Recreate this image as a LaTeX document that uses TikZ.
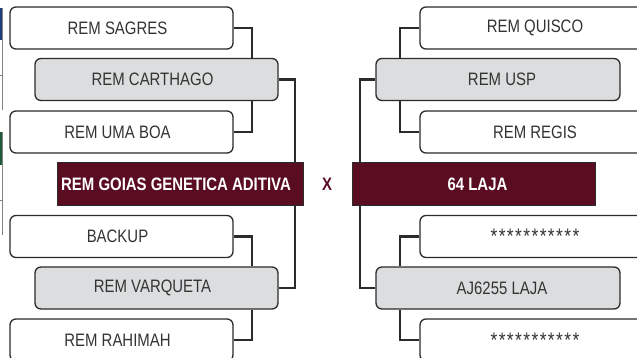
\documentclass[tikz,border=0pt]{standalone}
\usepackage{fontspec}
\setmainfont{Liberation Sans}[FakeStretch=0.83]
\usetikzlibrary{backgrounds}
\definecolor{maroon}{HTML}{5A0C21}
\definecolor{boxgray}{HTML}{DCDDDE}
\definecolor{edge}{HTML}{2B2B2B}
\definecolor{txt}{HTML}{333333}
\definecolor{stubblue}{HTML}{1F3F7A}
\definecolor{stubgreen}{HTML}{1E5A3A}
\newcommand{\stars}{{\fontsize{21}{21}\selectfont\foreach \i in {1,...,11}{\makebox[8.2pt]{*}}}}
\begin{document}
\begin{tikzpicture}[x=1pt,y=-1pt,
  base/.style={draw=edge,line width=1.3pt,rounded corners=6pt,minimum height=42pt,inner sep=0pt,
    text=txt,font=\fontsize{18}{20}\selectfont},
  whitebox/.style={base,fill=white,minimum width=223pt},
  graybox/.style={base,fill=boxgray,minimum width=243pt},
  mainbox/.style={draw=edge,line width=1pt,fill=maroon,text=white,minimum height=43pt,inner sep=0pt,
    font=\fontsize{18}{20}\selectfont\bfseries},
  toleft/.style={execute at begin node={\hspace*{-8pt}}},
  toright/.style={execute at end node={\hspace*{-8pt}}},
  conn/.style={draw=edge,line width=2.4pt}]
\useasboundingbox (0,0) rectangle (637,358);
\clip (0,0) rectangle (637,358);
% left edge stubs
\fill[stubblue] (0,8) rectangle (1.8,40);
\fill[stubgreen] (0,132) rectangle (1.8,165);
\draw[gray,line width=0.6pt] (2.2,8) -- (2.2,110) (0,75) -- (2.2,75);
\draw[gray,line width=0.6pt] (2.2,132) -- (2.2,235) (0,200) -- (2.2,200);
% left side
\node[whitebox,toleft] (sagres) at (121.5,28) {REM SAGRES};
\node[graybox,toleft] (carthago) at (156.5,79.5) {REM CARTHAGO};
\node[whitebox,toleft] (umaboa) at (121.5,132) {REM UMA BOA};
\node[mainbox,toleft,minimum width=246pt] (goias) at (180,184.5) {REM GOIAS GENETICA ADITIVA};
\node[whitebox,toleft] (backup) at (121.5,236.5) {BACKUP};
\node[graybox,toleft] (varqueta) at (156.5,288) {REM VARQUETA};
\node[whitebox,toleft] (rahimah) at (121.5,340) {REM RAHIMAH};
% right side
\node[whitebox,minimum width=230pt] (quisco) at (535,28) {REM QUISCO};
\node[graybox,toright,minimum width=244pt] (usp) at (498,79.5) {REM USP};
\node[whitebox,minimum width=230pt] (regis) at (535,132) {REM REGIS};
\node[mainbox,toright,minimum width=243pt] (laja) at (473.5,184.5) {64 LAJA};
\node[whitebox,minimum width=230pt] (star1) at (535,236.5) {\stars};
\node[graybox,toright,minimum width=244pt] (aj) at (498,288) {AJ6255 LAJA};
\node[whitebox,minimum width=230pt] (star2) at (535,340) {\stars};
% X
\node[text=maroon,font=\fontsize{18}{20}\selectfont\bfseries,inner sep=0pt] (x) at (327,184.5) {X};
% bracket columns
\coordinate (lb) at (252,0);
\coordinate (lc) at (295,0);
\coordinate (rb) at (400,0);
\coordinate (rc) at (360,0);
\begin{scope}[on background layer]
\draw[conn] (sagres.east) -| (lb |- carthago.north);
\draw[conn] (umaboa.east) -| (lb |- carthago.south);
\draw[conn] (carthago.east) -| (lc |- goias.north);
\draw[conn] (backup.east) -| (lb |- varqueta.north);
\draw[conn] (rahimah.east) -| (lb |- varqueta.south);
\draw[conn] (varqueta.east) -| (lc |- goias.south);
\draw[conn] (quisco.west) -| (rb |- usp.north);
\draw[conn] (regis.west) -| (rb |- usp.south);
\draw[conn] (usp.west) -| (rc |- laja.north);
\draw[conn] (star1.west) -| (rb |- aj.north);
\draw[conn] (star2.west) -| (rb |- aj.south);
\draw[conn] (aj.west) -| (rc |- laja.south);
\end{scope}
\end{tikzpicture}
\end{document}
